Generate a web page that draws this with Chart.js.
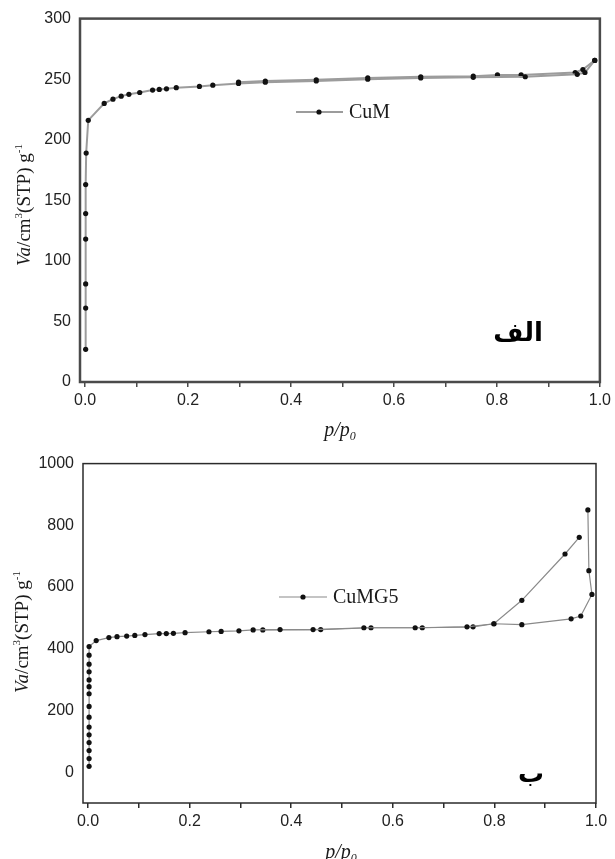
<!DOCTYPE html>
<html>
<head>
<meta charset="utf-8">
<script src="https://cdn.jsdelivr.net/npm/chart.js@4"></script>
<style>
  body { margin: 0; background: #fff; width: 615px; height: 859px; overflow: hidden; position: relative; }
  canvas { position: absolute; left: 0; }
  #cum { top: 0; }
  #cumg5 { top: 445px; }
</style>
</head>
<body>
<canvas id="cum" width="615" height="445"></canvas>
<canvas id="cumg5" width="615" height="414"></canvas>
<script>
// p/p0 axis (shared)
const xTicks = [0, 0.1, 0.2, 0.3, 0.4, 0.5, 0.6, 0.7, 0.8, 0.9, 1.0];
const xTickLabels = ['0.0', '', '0.2', '', '0.4', '', '0.6', '', '0.8', '', '1.0'];

// CuM isotherm
const cumTicks = [0, 50, 100, 150, 200, 250, 300];
const cumAdsP = [0.001, 0.001, 0.001, 0.001, 0.001, 0.001, 0.002, 0.006, 0.037, 0.054, 0.07, 0.085, 0.106, 0.131, 0.144, 0.158, 0.177, 0.222, 0.248, 0.298, 0.35, 0.449, 0.549, 0.652, 0.754, 0.855, 0.956, 0.971, 0.99];
const cumAdsV = [27, 61, 81, 118, 139, 163, 189, 216, 230, 233.5, 236, 237.5, 239, 241, 241.5, 242, 243, 244, 245, 246.5, 247.5, 248.5, 250, 251, 251.5, 252, 254, 255.5, 265.5];
const cumDesP = [0.99, 0.967, 0.952, 0.847, 0.801, 0.754, 0.652, 0.549, 0.449, 0.35, 0.298];
const cumDesV = [265.5, 258, 255.5, 253.5, 253.5, 252.5, 252, 251, 249.5, 248.5, 247.5];

// CuMG5 isotherm
const cumg5Ticks = [0, 200, 400, 600, 800, 1000];
const cumg5AdsP = [0.002, 0.002, 0.002, 0.002, 0.002, 0.002, 0.002, 0.002, 0.002, 0.002, 0.002, 0.002, 0.002, 0.002, 0.002,
  0.016, 0.041, 0.057, 0.076, 0.092, 0.112, 0.14, 0.154, 0.168, 0.191, 0.238, 0.262, 0.297, 0.325, 0.378,
  0.443, 0.543, 0.644, 0.746, 0.799, 0.854, 0.951, 0.97, 0.992, 0.986, 0.984];
const cumg5AdsV = [19, 44, 70, 96, 121, 146, 178, 213, 254, 277, 299, 325, 350, 379, 407,
  426.5, 436, 439, 441, 443, 446, 449, 449, 450, 452, 455, 456, 458, 461, 462,
  462, 468, 468, 471, 481, 478, 497, 506, 576, 653, 850];
const cumg5DesP = [0.967, 0.939, 0.854, 0.799, 0.758, 0.658, 0.557, 0.458, 0.344];
const cumg5DesV = [761, 707, 557, 481, 471, 468, 468, 462, 461];

const toPoints = (p, v) => p.map((x, i) => ({ x: x, y: v[i] }));

const tickFont = { family: '"Liberation Sans", Arial, sans-serif', size: 16 };
const serif = '"Liberation Serif", "Times New Roman", serif';

function pieceFont(p, size) {
  const s = (p.sup || p.sub) ? Math.round(size * 0.6) : size;
  return (p.it ? 'italic ' : '') + s + 'px ' + serif;
}

// draws mixed italic / superscript / subscript text centred on x
function richText(ctx, parts, x, y, size) {
  let total = 0;
  parts.forEach(p => { ctx.font = pieceFont(p, size); total += ctx.measureText(p.t).width; });
  let cx = x - total / 2;
  ctx.textAlign = 'left';
  ctx.textBaseline = 'alphabetic';
  parts.forEach(p => {
    ctx.font = pieceFont(p, size);
    const dy = p.sup ? -size * 0.42 : p.sub ? size * 0.22 : 0;
    ctx.fillText(p.t, cx, y + dy);
    cx += ctx.measureText(p.t).width;
  });
}

const yTitle = [{ t: 'Va', it: true }, { t: '/cm' }, { t: '3', sup: true }, { t: '(STP) g' }, { t: '-1', sup: true }];
const xTitle = [{ t: 'p/p', it: true }, { t: '0', it: true, sub: true }];

function decor(o) {
  return {
    id: 'decor',
    beforeDatasetsDraw(chart) {
      const { ctx, chartArea: a } = chart;
      ctx.save();
      ctx.strokeStyle = o.frameColor;
      ctx.lineWidth = o.frameWidth;
      ctx.strokeRect(a.left, a.top, a.right - a.left, a.bottom - a.top);
      ctx.restore();
    },
    afterDraw(chart) {
      const ctx = chart.ctx;
      ctx.save();
      ctx.fillStyle = '#1a1a1a';
      // axis titles
      richText(ctx, xTitle, o.xTitle[0], o.xTitle[1], 20);
      ctx.save();
      ctx.translate(o.yTitle[0], o.yTitle[1]);
      ctx.rotate(-Math.PI / 2);
      richText(ctx, yTitle, 0, 0, 19);
      ctx.restore();
      // legend
      const lg = o.legend;
      ctx.strokeStyle = o.lineColor;
      ctx.lineWidth = o.lineWidth;
      ctx.beginPath();
      ctx.moveTo(lg.x0, lg.y);
      ctx.lineTo(lg.x1, lg.y);
      ctx.stroke();
      ctx.fillStyle = '#111';
      ctx.beginPath();
      ctx.arc(lg.dot, lg.y, 2.6, 0, Math.PI * 2);
      ctx.fill();
      ctx.fillStyle = '#1a1a1a';
      ctx.font = '20px ' + serif;
      ctx.textAlign = 'left';
      ctx.textBaseline = 'middle';
      ctx.fillText(lg.text, lg.tx, lg.y + 1);
      // panel letter
      ctx.font = 'bold 26px "DejaVu Sans", sans-serif';
      ctx.textAlign = 'center';
      ctx.direction = 'rtl';
      ctx.fillStyle = '#000';
      ctx.fillText(o.letter[0], o.letter[1], o.letter[2]);
      ctx.restore();
    }
  };
}

function makeChart(id, cfg) {
  const series = (label, pts) => ({
    label: label,
    data: pts,
    showLine: true,
    borderColor: cfg.lineColor,
    borderWidth: cfg.lineWidth,
    pointRadius: 2.6,
    pointBackgroundColor: '#111',
    pointBorderWidth: 0,
    tension: 0
  });
  return new Chart(document.getElementById(id), {
    type: 'scatter',
    data: {
      datasets: [series(cfg.name, cfg.ads), series(cfg.name + ' des', cfg.des)]
    },
    options: {
      responsive: false,
      animation: false,
      devicePixelRatio: 1,
      layout: { padding: { top: cfg.pad[0], right: cfg.pad[1], bottom: 0, left: 0 } },
      plugins: { legend: { display: false }, tooltip: { enabled: false } },
      scales: {
        x: {
          type: 'linear',
          min: -0.01,
          max: 1.0,
          afterBuildTicks: s => { s.ticks = xTicks.map(v => ({ value: v })); },
          afterFit: s => { s.height = cfg.xHeight; },
          border: { display: false },
          grid: { drawOnChartArea: false, drawTicks: true, tickLength: 5, color: cfg.frameColor, lineWidth: 1.5 },
          ticks: {
            font: tickFont, color: '#222', padding: 4, maxRotation: 0, autoSkip: false,
            callback: (v, i) => xTickLabels[i]
          }
        },
        y: {
          type: 'linear',
          min: cfg.yMin,
          max: cfg.yMax,
          afterBuildTicks: s => { s.ticks = cfg.yTicks.map(v => ({ value: v })); },
          afterFit: s => { s.width = cfg.yWidth; },
          border: { display: false },
          grid: { display: false, drawTicks: false },
          ticks: { font: tickFont, color: '#222', padding: 9, autoSkip: false, callback: v => String(v) }
        }
      }
    },
    plugins: [decor(cfg)]
  });
}

makeChart('cum', {
  name: 'CuM',
  ads: toPoints(cumAdsP, cumAdsV),
  des: toPoints(cumDesP, cumDesV),
  yMin: 0, yMax: 300, yTicks: cumTicks,
  pad: [17, 13], xHeight: 63, yWidth: 80,
  lineColor: '#9c9c9c', lineWidth: 2,
  frameColor: '#4a4a4a', frameWidth: 2.5,
  xTitle: [340, 436], yTitle: [30, 205],
  legend: { x0: 296, x1: 343, dot: 319, y: 112, tx: 349, text: 'CuM' },
  letter: ['الف', 518, 334]
});

makeChart('cumg5', {
  name: 'CuMG5',
  ads: toPoints(cumg5AdsP, cumg5AdsV),
  des: toPoints(cumg5DesP, cumg5DesV),
  yMin: -100, yMax: 1000, yTicks: cumg5Ticks,
  pad: [13, 19], xHeight: 56, yWidth: 83,
  lineColor: '#8a8a8a', lineWidth: 1.2,
  frameColor: '#2b2b2b', frameWidth: 1.5,
  xTitle: [341, 413], yTitle: [28, 187],
  legend: { x0: 279, x1: 327, dot: 303, y: 152, tx: 333, text: 'CuMG5' },
  letter: ['ب', 531, 330]
});
</script>
</body>
</html>
